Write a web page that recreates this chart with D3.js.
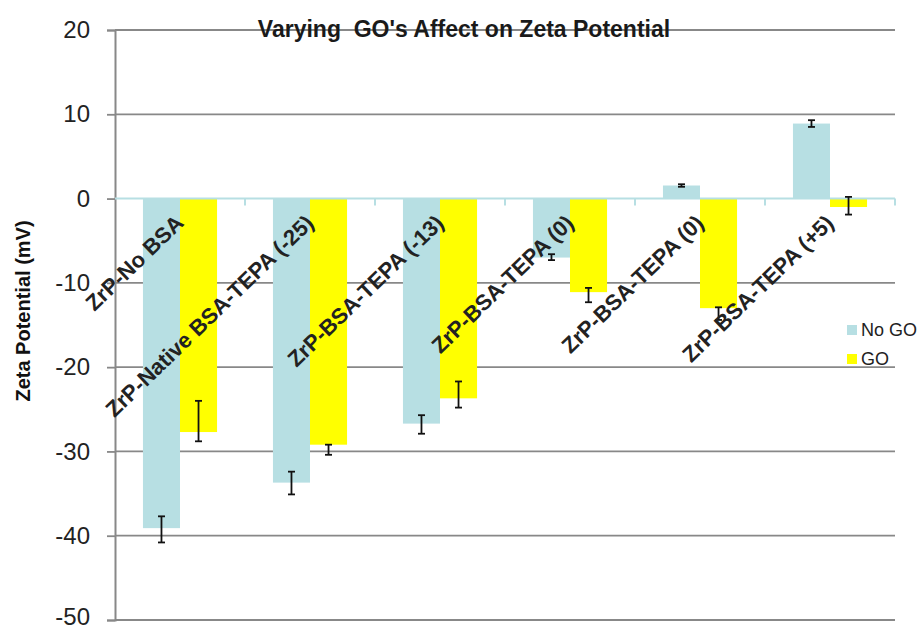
<!DOCTYPE html>
<html><head><meta charset="utf-8">
<script src="https://cdn.jsdelivr.net/npm/d3@7/dist/d3.min.js"></script>
<style>
html,body{margin:0;padding:0;background:#fff;}
svg{display:block;font-family:"Liberation Sans",Arial,sans-serif;}
</style></head>
<body>
<svg id="chart" width="917" height="628"></svg>
<script>
const categories = ["ZrP-No BSA","ZrP-Native BSA-TEPA (-25)","ZrP-BSA-TEPA (-13)","ZrP-BSA-TEPA (0)","ZrP-BSA-TEPA (0)","ZrP-BSA-TEPA (+5)"];
const seriesNames = ["No GO","GO"];
const noGO = [-39.1,-33.7,-26.7,-7.0,1.55,8.9];
const go = [-27.7,-29.2,-23.7,-11.1,-13.0,-1.0];
const noGOErrHigh = [-37.7,-32.4,-25.7,-6.6,1.7,9.3];
const noGOErrLow = [-40.8,-35.1,-27.9,-7.3,1.4,8.5];
const goErrHigh = [-24.0,-29.2,-21.7,-10.6,-12.9,0.2];
const goErrLow = [-28.8,-30.4,-24.8,-12.3,-14.4,-1.9];
const yTicks = [20,10,0,-10,-20,-30,-40,-50];
const title = "Varying  GO's Affect on Zeta Potential";
const yLabel = "Zeta Potential (mV)";
const colors = ["#b7dfe3","#ffff00"];

(function(){
const svg = d3.select("#chart");
const mLeft = 115, mRight = 895, mTop = 30, mBottom = 620;

const y = d3.scaleLinear().domain([-50,20]).range([mBottom, mTop]);
const x = d3.scaleBand().domain(categories.map((c,i)=>i)).range([mLeft,mRight]).paddingInner(0.43).paddingOuter(0.215);
const xs = d3.scaleBand().domain([0,1]).range([0,x.bandwidth()]);

const series = [noGO, go];
const errH = [noGOErrHigh, goErrHigh];
const errL = [noGOErrLow, goErrLow];

// gridlines
svg.append("g").selectAll("line").data(yTicks.filter(t=>t!==0)).join("line")
  .attr("x1",mLeft).attr("x2",mRight).attr("y1",d=>y(d)).attr("y2",d=>y(d))
  .attr("stroke","#888").attr("stroke-width",1.8);

// y axis
const yAxis = d3.axisLeft(y).tickValues(yTicks).tickSize(8).tickFormat(d=>String(d));
const ya = svg.append("g").attr("transform",`translate(${mLeft},0)`).call(yAxis);
ya.select(".domain").attr("stroke","#888").attr("stroke-width",2);
ya.selectAll(".tick line").attr("stroke","#888").attr("stroke-width",1.8);
ya.selectAll(".tick text").attr("x",-25).attr("fill","#222").style("font-size","24px").style("font-family","Liberation Sans, Arial, sans-serif")
  .attr("y", d => d === -50 ? -3 : 0);

// bars
series.forEach((s,si)=>{
  svg.append("g").selectAll("rect").data(s).join("rect")
    .attr("x",(d,i)=>x(i)+xs(si))
    .attr("width",xs.bandwidth())
    .attr("y",d=>Math.min(y(d),y(0)))
    .attr("height",d=>Math.abs(y(d)-y(0)))
    .attr("fill",colors[si]);
});

// zero/category axis
svg.append("line").attr("x1",mLeft).attr("x2",mRight).attr("y1",y(0)).attr("y2",y(0))
  .attr("stroke","#b7dfe3").attr("stroke-width",2);
svg.append("g").selectAll("line").data(d3.range(1,categories.length+1)).join("line")
  .attr("x1",i=>mLeft+x.step()*i).attr("x2",i=>mLeft+x.step()*i)
  .attr("y1",y(0)).attr("y2",y(0)+7).attr("stroke","#b7dfe3").attr("stroke-width",2);

// error bars
series.forEach((s,si)=>{
  const g = svg.append("g").attr("stroke","#111").attr("stroke-width",1.8);
  s.forEach((d,i)=>{
    const cx = x(i)+xs(si)+xs.bandwidth()/2;
    const y1 = y(errH[si][i]), y2 = y(errL[si][i]);
    g.append("line").attr("x1",cx).attr("x2",cx).attr("y1",y1).attr("y2",y2);
    g.append("line").attr("x1",cx-3.5).attr("x2",cx+3.5).attr("y1",y1).attr("y2",y1);
    g.append("line").attr("x1",cx-3.5).attr("x2",cx+3.5).attr("y1",y2).attr("y2",y2);
  });
});

// category labels
svg.append("g").selectAll("text").data(categories).join("text")
  .attr("transform",(d,i)=>`translate(${x(i)+x.bandwidth()/2+5},${y(0)+26}) rotate(-44)`)
  .attr("text-anchor","end")
  .attr("fill","#222")
  .style("font-size","22px").style("font-weight","bold")
  .text(d=>d);

// title
svg.append("text").attr("x",464).attr("y",37).attr("text-anchor","middle")
  .attr("fill","#1a1a1a").style("font-size","23px").style("font-weight","bold")
  .style("white-space","pre")
  .text(title);

// y label
svg.append("text").attr("transform",`translate(30,311) rotate(-90)`).attr("text-anchor","middle")
  .attr("fill","#111").style("font-size","20px").style("font-weight","bold").text(yLabel);

// legend
const lg = svg.append("g");
seriesNames.forEach((n,i)=>{
  const ly = 336 + i*29;
  lg.append("rect").attr("x",847).attr("y",ly-11).attr("width",10).attr("height",10).attr("fill",colors[i]);
  lg.append("text").attr("x",861).attr("y",ly).attr("fill","#222").style("font-size","18px").text(n);
});
})();
</script>
</body></html>
